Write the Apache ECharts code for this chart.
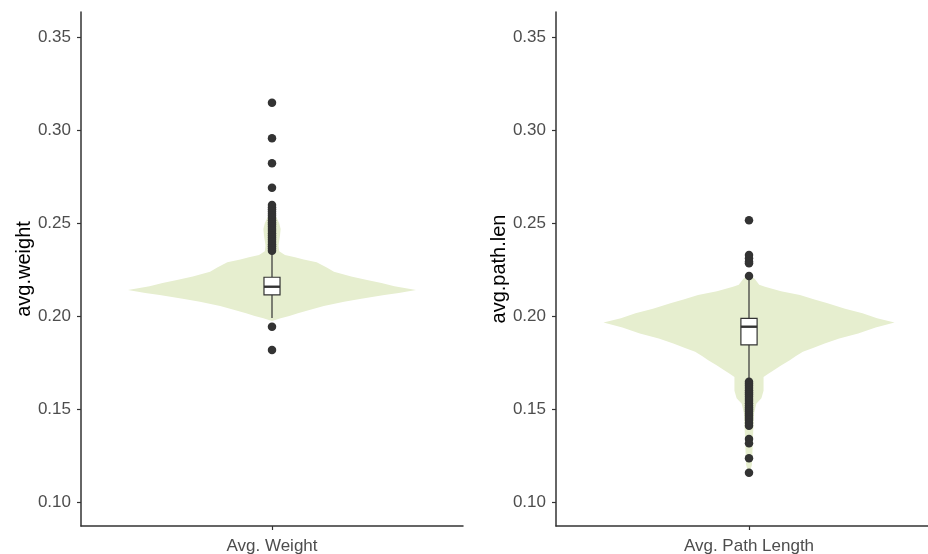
<!DOCTYPE html>
<html>
<head>
<meta charset="utf-8">
<script src="https://cdn.jsdelivr.net/npm/echarts@6/dist/echarts.min.js"></script>
<style>
  html, body { margin: 0; padding: 0; background: #ffffff; }
  #chart { width: 928px; height: 554px; }
</style>
</head>
<body>
<div id="chart"></div>
<script>
// Panel categories and y-axis titles
const categories = ['Avg. Weight', 'Avg. Path Length'];
const axisTitles = ['avg.weight', 'avg.path.len'];
const yTicks = [0.10, 0.15, 0.20, 0.25, 0.30, 0.35];

// Box summaries: [lower whisker, Q1, median, Q3, upper whisker]
const weightBox = [0.1991, 0.2115, 0.2159, 0.2210, 0.2345];
const pathBox = [0.1655, 0.1846, 0.1944, 0.1989, 0.2195];

// Points beyond the whiskers
const weightOutliers = [
  0.3148, 0.2957, 0.2823, 0.2691,
  0.2598, 0.2586, 0.2575, 0.2563, 0.2551, 0.2540, 0.2528, 0.2516, 0.2504,
  0.2493, 0.2481, 0.2470, 0.2458, 0.2446, 0.2435, 0.2423, 0.2411, 0.2400,
  0.2388, 0.2376, 0.2365, 0.2353,
  0.1944, 0.1819
];
const pathOutliers = [
  0.2517, 0.2329, 0.2312, 0.2295, 0.2285, 0.2217,
  0.1648, 0.1637, 0.1626, 0.1614, 0.1602, 0.1591, 0.1579, 0.1567, 0.1556,
  0.1545, 0.1533, 0.1521, 0.1510, 0.1499, 0.1488, 0.1476, 0.1465, 0.1453,
  0.1442, 0.1426, 0.1412, 0.1340, 0.1317, 0.1237, 0.1159
];

// Density profiles: sample values and relative density (1 = widest)
const weightDensityY = [0.2620, 0.2550, 0.2500, 0.2470, 0.2430, 0.2380, 0.2350, 0.2330, 0.2318,
  0.2306, 0.2290, 0.2262, 0.2240, 0.2214, 0.2195, 0.2179, 0.2162, 0.2142,
  0.2125, 0.2114, 0.2095, 0.2078, 0.2055, 0.2034, 0.2016, 0.2002, 0.1990, 0.1975];
const weightDensity = [0.00, 0.02, 0.05, 0.06, 0.055, 0.045, 0.05, 0.09, 0.16,
  0.22, 0.31, 0.38, 0.43, 0.55, 0.66, 0.76, 0.85, 1.00,
  0.88, 0.78, 0.62, 0.50, 0.36, 0.26, 0.18, 0.12, 0.06, 0.00];

const pathDensityY = [0.2225, 0.2200, 0.2170, 0.2159, 0.2135, 0.2115, 0.2090, 0.2070, 0.2040,
  0.2016, 0.1990, 0.1966, 0.1940, 0.1908, 0.1880, 0.1854, 0.1830, 0.1809, 0.1785,
  0.1764, 0.1735, 0.1710, 0.1690, 0.1674, 0.1640, 0.1600, 0.1560, 0.1530, 0.1480,
  0.1400, 0.1300, 0.1200, 0.1150];
const pathDensity = [0.00, 0.04, 0.07, 0.11, 0.22, 0.35, 0.45, 0.54, 0.66,
  0.78, 0.88, 1.00, 0.87, 0.75, 0.62, 0.52, 0.44, 0.37, 0.32,
  0.28, 0.22, 0.17, 0.13, 0.10, 0.10, 0.10, 0.085, 0.05, 0.035,
  0.03, 0.025, 0.02, 0.00];

const panels = [
  { box: weightBox, outliers: weightOutliers, dy: weightDensityY, dw: weightDensity },
  { box: pathBox, outliers: pathOutliers, dy: pathDensityY, dw: pathDensity }
];

const VIOLIN_HALF = 0.377;   // widest half-width, as a share of the category band
const BOX_HALF = 0.021;      // half box width, as a share of the category band
const INK = '#333333';
const FILL = '#e6eecf';
const Y_MIN = 0.08726, Y_MAX = 0.3636;
const FONT = 'Liberation Sans, Arial, sans-serif';

const chart = echarts.init(document.getElementById('chart'), null, { renderer: 'canvas' });

const grids = [
  { left: 81, top: 12, width: 382, height: 514, outerBoundsMode: 'none', containLabel: false },
  { left: 556, top: 12, width: 386, height: 514, outerBoundsMode: 'none', containLabel: false }
];
const nameGaps = [45, 41];

const xAxes = categories.map((c, i) => ({
  type: 'category',
  gridIndex: i,
  data: [c],
  axisLine: { show: true, lineStyle: { color: INK, width: 1.5 } },
  axisTick: { show: true, alignWithLabel: true, length: 4, lineStyle: { color: INK, width: 1.2 } },
  axisLabel: { color: '#4d4d4d', fontSize: 17, fontFamily: FONT, margin: 12 },
  splitLine: { show: false }
}));

const yAxes = axisTitles.map((t, i) => ({
  type: 'value',
  gridIndex: i,
  min: Y_MIN,
  max: Y_MAX,
  name: t,
  nameLocation: 'middle',
  nameRotate: 90,
  nameGap: nameGaps[i],
  nameTextStyle: { color: '#000000', fontSize: 20, fontFamily: FONT },
  axisLine: { show: true, lineStyle: { color: INK, width: 1.5 } },
  axisTick: { show: true, length: 4, customValues: yTicks, lineStyle: { color: INK, width: 1.2 } },
  axisLabel: {
    show: true,
    customValues: yTicks,
    color: '#4d4d4d',
    fontSize: 17,
    fontFamily: FONT,
    margin: 10,
    formatter: v => v.toFixed(2)
  },
  splitLine: { show: false }
}));

const series = [];
panels.forEach((p, i) => {
  // violin outline
  series.push({
    type: 'custom',
    xAxisIndex: i,
    yAxisIndex: i,
    z: 1,
    silent: true,
    clip: false,
    data: [[0, p.box[2]]],
    renderItem: (params, api) => {
      const band = api.size([1, 0])[0];
      const half = band * VIOLIN_HALF;
      const right = [], left = [];
      for (let k = 0; k < p.dy.length; k++) {
        const pt = api.coord([0, p.dy[k]]);
        right.push([pt[0] + p.dw[k] * half, pt[1]]);
        left.push([pt[0] - p.dw[k] * half, pt[1]]);
      }
      const pts = right.concat(left.reverse());
      return { type: 'polygon', shape: { points: pts, smooth: 0 }, style: { fill: FILL, stroke: null } };
    }
  });
  // box and whiskers
  series.push({
    type: 'custom',
    xAxisIndex: i,
    yAxisIndex: i,
    z: 3,
    silent: true,
    data: [[0].concat(p.box)],
    renderItem: (params, api) => {
      const band = api.size([1, 0])[0];
      const bw = band * BOX_HALF;
      const lo = api.coord([0, api.value(1)]);
      const q1 = api.coord([0, api.value(2)]);
      const md = api.coord([0, api.value(3)]);
      const q3 = api.coord([0, api.value(4)]);
      const hi = api.coord([0, api.value(5)]);
      const cx = lo[0];
      return {
        type: 'group',
        children: [
          { type: 'line', shape: { x1: cx, y1: hi[1], x2: cx, y2: q3[1] }, style: { stroke: INK, lineWidth: 1.2 } },
          { type: 'line', shape: { x1: cx, y1: q1[1], x2: cx, y2: lo[1] }, style: { stroke: INK, lineWidth: 1.2 } },
          { type: 'rect', shape: { x: cx - bw, y: q3[1], width: 2 * bw, height: q1[1] - q3[1] }, style: { fill: '#ffffff', stroke: INK, lineWidth: 1.2 } },
          { type: 'line', shape: { x1: cx - bw, y1: md[1], x2: cx + bw, y2: md[1] }, style: { stroke: INK, lineWidth: 2.4 } }
        ]
      };
    }
  });
  // outliers
  series.push({
    type: 'scatter',
    xAxisIndex: i,
    yAxisIndex: i,
    z: 4,
    silent: true,
    symbol: 'circle',
    symbolSize: 8.5,
    itemStyle: { color: INK, opacity: 1 },
    data: p.outliers.map(v => [0, v])
  });
});

chart.setOption({
  animation: false,
  backgroundColor: '#ffffff',
  grid: grids,
  xAxis: xAxes,
  yAxis: yAxes,
  series: series
});
</script>
</body>
</html>
